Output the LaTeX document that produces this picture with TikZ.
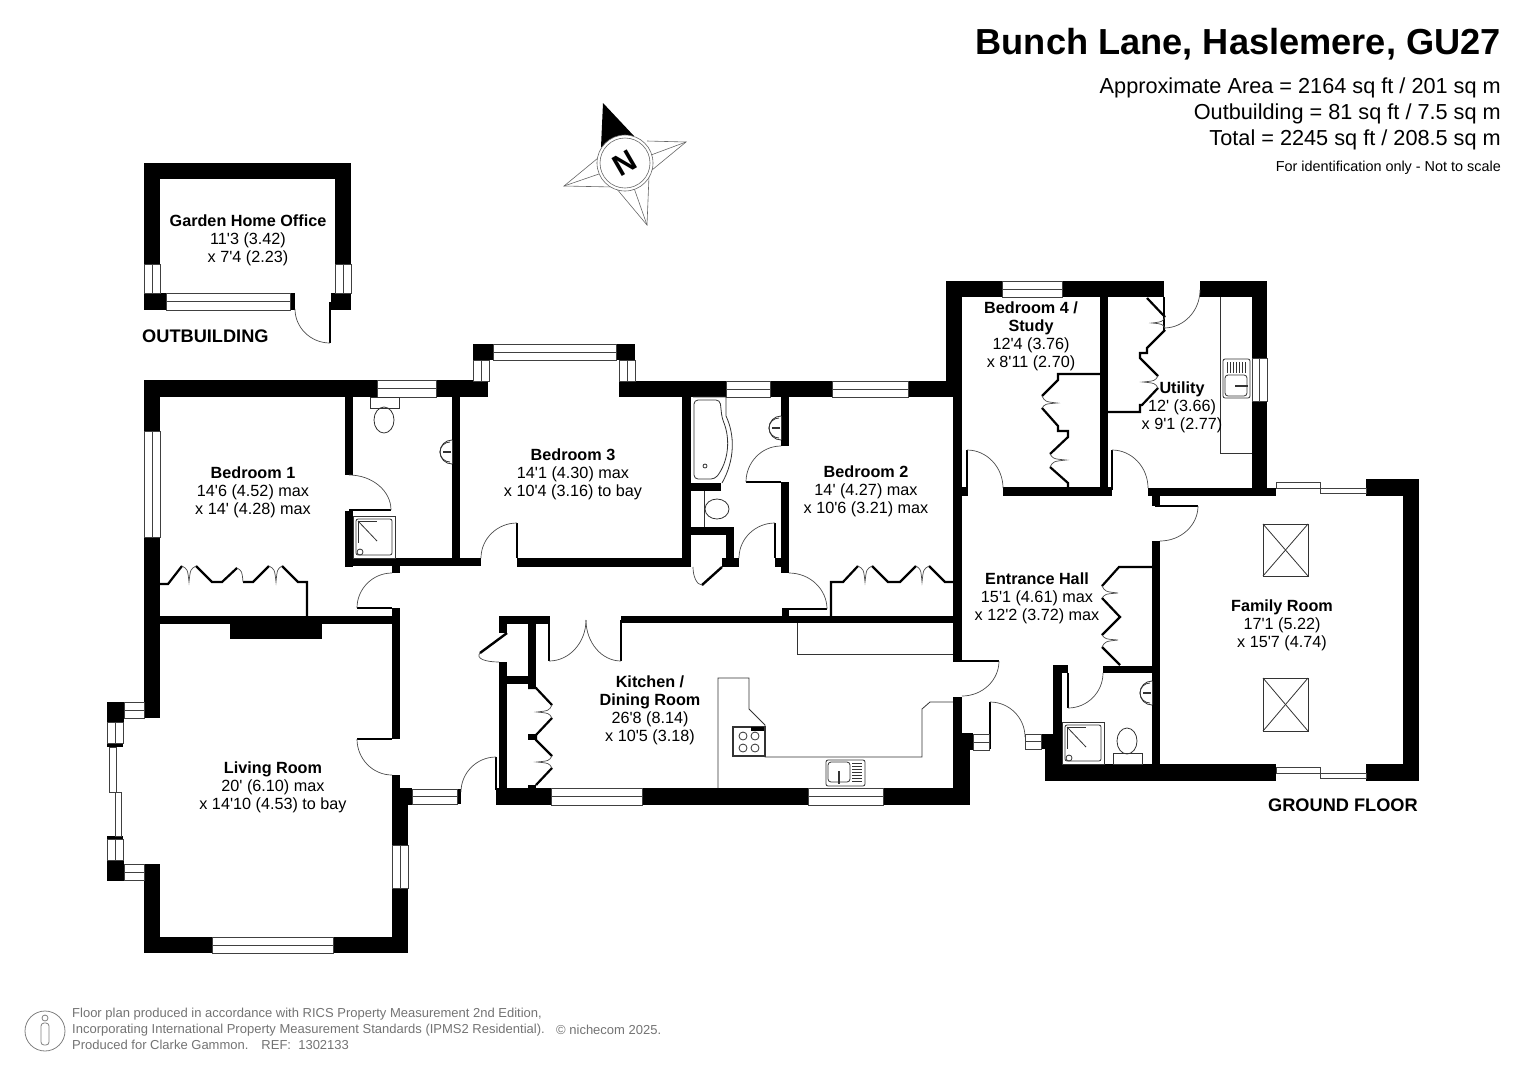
\documentclass[tikz,border=0pt]{standalone}
\usepackage{fontspec}
\usepackage{tikz}
\newfontfamily\planfont{Liberation Sans}

% quarter swing of a door: hinge, start, end
\newcommand{\swing}[6]{%
  \pgfmathsetmacro\swAx{#3+0.55*(#5-#1)}%
  \pgfmathsetmacro\swAy{#4+0.55*(#6-#2)}%
  \pgfmathsetmacro\swBx{#5+0.55*(#3-#1)}%
  \pgfmathsetmacro\swBy{#6+0.55*(#4-#2)}%
  \draw[doorline] (#3,#4) .. controls (\swAx,\swAy) and (\swBx,\swBy) .. (#5,#6);}

\begin{document}
\begin{tikzpicture}[
    x=1pt, y=-1pt,
    wall/.style={fill=black},
    pane/.style={draw=black!75, fill=white, line width=0.7pt},
    doorline/.style={draw=black!70, line width=0.7pt},
    leaf/.style={draw=black, line width=2.4pt},
    fold/.style={draw=black, line width=2.2pt, line join=miter},
    fitting/.style={draw=black!80, line width=0.8pt},
    skylight/.style={draw=black!80, line width=0.8pt},
    roomlabel/.style={font=\planfont\fontsize{16.2}{18}\selectfont, align=center, inner sep=0pt},
    floorlabel/.style={font=\planfont\bfseries\fontsize{18.2}{20}\selectfont, inner sep=0pt},
    arealabel/.style={font=\planfont\fontsize{21.7}{26}\selectfont, anchor=east, inner sep=0pt},
    footlabel/.style={font=\planfont\fontsize{13}{15}\selectfont, text=black!55, anchor=west, inner sep=0pt},
    compass/.style={draw=black!60, line width=0.6pt}
]
\useasboundingbox (0,0) rectangle (1527,1080);

% Walls
\foreach \xa/\ya/\xb/\yb in {
    144/380/488/397, 144/380/160/718, 144/864/160/953, 144/937/408/953,
    392/788/408/953, 392/775/400/790, 392/608/400/739, 160/616/400/624,
    230/624/322/639, 345/397/353/475, 345/511/353/567, 345/558/481/566,
    452/397/460/558, 392/566/400/573, 473/344/493/360, 616/344/635/360,
    619/381/962/397, 682/397/691/567, 517/558/691/567, 691/483/721/491,
    691/527/734/535, 726/527/734/567, 722/558/739/567, 775/558/789/567,
    781/397/789/446, 781/482/789/573, 782/609/789/623, 621/616/962/623,
    953/381/962/660, 946/281/962/397, 946/281/1164/297, 1200/281/1267/297,
    1252/281/1267/496, 1100/297/1108/487, 962/487/968/496, 1003/487/1112/496,
    1148/488/1276/496, 1152/496/1160/506, 1152/541/1160/765, 1366/479/1419/496,
    1403/479/1419/781, 1045/764/1276/781, 1366/764/1419/781, 1053/665/1062/764,
    1045/734/1062/781, 1053/665/1068/673, 1103/666/1152/673, 953/697/962/788,
    962/733/973/750, 962/750/970/805, 496/788/970/805, 499/616/550/624, 499/616/507/633,
    499/662/507/788, 528/624/536/688, 507/676/528/684, 528/734/536/740,
    528/785/536/788, 400/788/412/805, 457/789/461/804, 1041/734/1053/749,
    988/734/991/749, 107/702/124/722, 107/860/124/881, 107/743/123/747,
    107/836/123/839, 144/163/351/179, 144/163/160/264, 335/163/351/264,
    144/293/166/310, 290/293/295/310, 331/293/351/310}
  \fill[wall] (\xa,\ya) rectangle (\xb,\yb);

% Windows, middle line along the length
\foreach \xa/\ya/\xb/\yb in {
    377/380/436/397, 493/344/616/360, 726/381/770/397, 832/381/908/397,
    1002/281/1062/297, 551/788/642/805, 808/788/883/805, 212/937/333/953,
    412/789/457/804, 973/734/989/750, 1025/734/1041/749, 124/702/144/718,
    124/864/144/880, 166/293/290/310}
  {\pgfmathsetmacro\ym{(\ya+\yb)/2}
   \draw[pane] (\xa,\ya) rectangle (\xb,\yb);
   \draw[pane] (\xa,\ym) -- (\xb,\ym);}
\foreach \xa/\ya/\xb/\yb in {
    144/431/160/537, 473/360/489/381, 619/360/635/381, 1252/358/1267/401,
    392/845/408/888, 107/722/123/743, 107/839/123/860, 144/264/160/293,
    335/264/351/293}
  {\pgfmathsetmacro\xm{(\xa+\xb)/2}
   \draw[pane] (\xa,\ya) rectangle (\xb,\yb);
   \draw[pane] (\xm,\ya) -- (\xm,\yb);}

% Sliding doors
\foreach \xa/\ya/\xb/\yb in {
    1276/482/1320/488, 1320/488/1366/493, 1276/767/1320/773, 1320/773/1366/778,
    109/747/116/792, 115/792/121/836}
  \draw[pane] (\xa,\ya) rectangle (\xb,\yb);

% Door leaves
\foreach \xa/\ya/\xb/\yb in {
    349/510/391/510, 357/608/392/608, 357/739/392/739, 517/523/517/558,
    775/523/775/558, 746/482/781/482, 782/609/827/609, 967/450/967/490,
    1112/450/1112/490, 1164/297/1164/330, 1155/506/1198/506, 953/661/999/661,
    990/702/990/734, 1068/673/1068/708, 549/620/549/661, 621/620/621/661,
    496/757/496/790, 330/302/330/343}
  \draw[leaf, line width=2pt] (\xa,\ya) -- (\xb,\yb);
\draw[leaf] (722,567) -- (702,585);
\draw[leaf] (507,633) -- (480,653);

% Door swings
\swing{349}{510}{391}{510}{349}{475}
\swing{392}{608}{357}{608}{392}{573}
\swing{392}{739}{357}{739}{392}{775}
\swing{517}{558}{517}{523}{481}{558}
\swing{775}{558}{775}{523}{739}{558}
\swing{781}{482}{746}{482}{781}{446}
\swing{789}{609}{827}{609}{789}{573}
\swing{967}{488}{967}{450}{1003}{488}
\swing{1112}{488}{1112}{450}{1148}{488}
\swing{1164}{290}{1164}{328}{1200}{290}
\swing{1160}{506}{1198}{506}{1160}{541}
\swing{962}{661}{999}{661}{962}{696}
\swing{990}{737}{990}{702}{1025}{737}
\swing{1068}{673}{1068}{708}{1103}{673}
\swing{549}{620}{549}{661}{586}{620}
\swing{621}{620}{621}{661}{586}{620}
\swing{496}{792}{496}{757}{461}{792}
\swing{330}{309}{330}{343}{295}{309}
\swing{702}{567}{702}{585}{693}{567}
\swing{507}{653}{480}{653}{499}{662}

% Folding wardrobe doors
\draw[fold] (160,584) -- (168,584) -- (182,566);
\draw[fold] (196,566) -- (212,582) -- (222,582) -- (237,568);
\draw[fold] (243,582) -- (253,582) -- (269,566);
\draw[fold] (282,566) -- (298,582) -- (307,582) -- (307,616);
\draw[fold] (831,616) -- (831,582) -- (843,582) -- (858,566);
\draw[fold] (872,566) -- (888,582) -- (900,582) -- (916,566);
\draw[fold] (929,566) -- (945,582) -- (953,582);
\draw[fold] (1100,374) -- (1058,374) -- (1058,380) -- (1042,396);
\draw[fold] (1042,408) -- (1058,426) -- (1058,431) -- (1068,431) -- (1068,437) -- (1050,454);
\draw[fold] (1050,467) -- (1068,483) -- (1068,487);
\draw[fold] (1147,298) -- (1165,317);
\draw[fold] (1165,330) -- (1147,348) -- (1147,353) -- (1140,353) -- (1140,358) -- (1158,376);
\draw[fold] (1158,388) -- (1142,405) -- (1140,405) -- (1140,412) -- (1108,412);
\draw[fold] (1152,567) -- (1119,567) -- (1102,586);
\draw[fold] (1102,598) -- (1120,617) -- (1102,635);
\draw[fold] (1102,647) -- (1120,665);
\draw[fold] (528,688) -- (536,688) -- (552,705);
\draw[fold] (552,718) -- (536,735) -- (536,740) -- (552,756);
\draw[fold] (552,768) -- (536,785);

% Fold tips pointing down
\foreach \ax/\ay/\tx/\ty/\bx in {182/566/189/582/196, 269/566/276/582/282, 858/566/865/582/872, 916/566/922/582/929}
  {\pgfmathsetmacro\cl{\ax+0.8*(\tx-\ax)}
   \pgfmathsetmacro\cr{\bx+0.8*(\tx-\bx)}
   \pgfmathsetmacro\cy{\ay+0.2*(\ty-\ay)}
   \draw[doorline] (\ax,\ay) .. controls (\cl,\cy) .. (\tx,\ty) .. controls (\cr,\cy) .. (\bx,\ay);}
\draw[doorline] (237,568) .. controls (242,571) .. (243,582);
% Fold tips pointing sideways
\foreach \ax/\ay/\tx/\ty/\by in {1042/396/1057/403/408, 1050/454/1066/460/467, 1165/317/1152/323/328,
    1158/376/1143/382/388, 1102/586/1118/593/598, 1102/635/1118/640/647, 552/705/537/712/718, 552/756/537/762/768}
  {\pgfmathsetmacro\cx{\ax+0.2*(\tx-\ax)}
   \pgfmathsetmacro\ct{\ay+0.8*(\ty-\ay)}
   \pgfmathsetmacro\cb{\by+0.8*(\ty-\by)}
   \draw[doorline] (\ax,\ay) .. controls (\cx,\ct) .. (\tx,\ty) .. controls (\cx,\cb) .. (\ax,\by);}

% Kitchen and utility worktops
\draw[fitting] (797,623) -- (797,654) -- (953,654);
\draw[fitting] (718,788) -- (718,678) -- (749,678) -- (749,709) -- (765,725) -- (765,757)
    -- (922,757) -- (922,709) -- (930,702) -- (953,702);
\draw[fitting] (1220,297) -- (1220,453) -- (1252,453);

% Hob
\draw[fitting, line width=1.2pt, fill=white] (733,727) rectangle (765,756);
\fill[black] (751,727) rectangle (764,731);
\foreach \hx/\hy in {743/736, 755/736, 743/748, 755/748}
  \draw[fitting] (\hx,\hy) circle (4);

% Kitchen sink
\draw[fitting, rounded corners=2pt, fill=white] (826,760) rectangle (865,786);
\draw[fitting, rounded corners=3pt] (828,762) rectangle (850,782);
\foreach \sy in {763,766,...,781}
  \draw[fitting] (852,\sy) -- (862,\sy);
\draw[fitting, line width=1.2pt] (839,771) -- (839,784);

% Utility sink
\draw[fitting, rounded corners=2pt, fill=white] (1223,359) rectangle (1250,398);
\draw[fitting, rounded corners=3pt] (1225,375) rectangle (1247,396);
\foreach \sx in {1227,1230,...,1245}
  \draw[fitting] (\sx,362) -- (\sx,373);
\draw[fitting, line width=1.2pt] (1235,386) -- (1248,386);

% Basins
\foreach \bx/\by in {452/452, 781/428, 1152/693}
  {\draw[fitting] (\bx,\by-12) arc[start angle=-90, end angle=-270, radius=12];
   \draw[fitting] (\bx,\by-12) -- (\bx,\by+12);
   \draw[fitting] (\bx-2,\by-10) arc[start angle=-90, end angle=-270, radius=10];
   \draw[fitting, line width=1.4pt] (\bx-9,\by) -- (\bx-1,\by);}

% Toilets
\draw[fitting] (370,397) rectangle (399,408);
\draw[fitting] (384,420) ellipse (10 and 13);
\draw[fitting] (704,491) -- (704,527);
\draw[fitting] (717,509) ellipse (12 and 10);
\draw[fitting] (1113,753) rectangle (1142,764);
\draw[fitting] (1127,741) ellipse (10 and 13);

% Showers
\foreach \sx/\sy in {353/516, 1062/722}
  {\draw[fitting] (\sx,\sy) rectangle (\sx+42,\sy+42);
   \draw[fitting, rounded corners=2pt] (\sx+3,\sy+3) rectangle (\sx+39,\sy+39);
   \draw[fitting] (\sx+5,\sy+5) -- (\sx+24,\sy+5);
   \draw[fitting] (\sx+5,\sy+5) -- (\sx+5,\sy+27);
   \draw[fitting] (\sx+5,\sy+5) -- (\sx+24,\sy+25);
   \draw[fitting] (\sx+7,\sy+36) circle (3);}

% Bath
\draw[fitting] (693,397) -- (726,397) -- (726,416) .. controls (735,435) and (735,460) .. (722,483);
\draw[fitting, rounded corners=4pt] (694,400) -- (720,400) -- (722,418)
    .. controls (731,440) and (728,462) .. (715,479) -- (694,479) -- cycle;
\draw[fitting] (705,466) circle (2);

% Skylights
\foreach \xa/\ya/\xb/\yb in {1263/524/1308/576, 1263/678/1308/731}
  {\draw[skylight] (\xa,\ya) rectangle (\xb,\yb);
   \draw[skylight] (\xa,\ya) -- (\xb,\yb);
   \draw[skylight] (\xa,\yb) -- (\xb,\ya);}

% Compass
\draw[compass] (647,141) -- (686,142) -- (652,170);
\draw[compass] (651,155) -- (686,142);
\draw[compass] (598,158) -- (564,186) -- (614,187);
\draw[compass] (599,174) -- (564,186);
\draw[compass] (616,188) -- (647,225) -- (649,176);
\draw[compass] (634,188) -- (647,225);
\fill[black] (603,103) -- (634,136) -- (601,147) -- cycle;
\draw[compass, fill=white] (625,163) circle (28);
\draw[compass] (625,163) circle (25);
\node[font=\planfont\bfseries\fontsize{30}{30}\selectfont, rotate=30, inner sep=0pt] (north) at (625,163) {N};

% Rooms
\node[roomlabel] (office) at (248,240) {\textbf{Garden Home Office}\\11'3 (3.42)\\x 7'4 (2.23)};
\node[roomlabel] (bedone) at (253,492) {\textbf{Bedroom 1}\\14'6 (4.52) max\\x 14' (4.28) max};
\node[roomlabel] (bedthree) at (573,474) {\textbf{Bedroom 3}\\14'1 (4.30) max\\x 10'4 (3.16) to bay};
\node[roomlabel] (bedtwo) at (866,491) {\textbf{Bedroom 2}\\14' (4.27) max\\x 10'6 (3.21) max};
\node[roomlabel] (bedfour) at (1031,336) {\textbf{Bedroom 4 /}\\\textbf{Study}\\12'4 (3.76)\\x 8'11 (2.70)};
\node[roomlabel] (utility) at (1182,407) {\textbf{Utility}\\12' (3.66)\\x 9'1 (2.77)};
\node[roomlabel] (hall) at (1037,598) {\textbf{Entrance Hall}\\15'1 (4.61) max\\x 12'2 (3.72) max};
\node[roomlabel] (family) at (1282,625) {\textbf{Family Room}\\17'1 (5.22)\\x 15'7 (4.74)};
\node[roomlabel] (kitchen) at (650,710) {\textbf{Kitchen /}\\\textbf{Dining Room}\\26'8 (8.14)\\x 10'5 (3.18)};
\node[roomlabel] (living) at (273,787) {\textbf{Living Room}\\20' (6.10) max\\x 14'10 (4.53) to bay};
\node[floorlabel, anchor=west] (outbuilding) at (142,336) {OUTBUILDING};
\node[floorlabel, anchor=east] (ground) at (1418,805) {GROUND FLOOR};

% Title
\node[font=\planfont\bfseries\fontsize{36.2}{40}\selectfont, anchor=east, inner sep=0pt] (title) at (1501,44) {Bunch Lane, Haslemere, GU27};
\node[arealabel] (area) at (1501,88) {Approximate Area = 2164 sq ft / 201 sq m};
\node[arealabel] (outarea) at (1501,114) {Outbuilding = 81 sq ft / 7.5 sq m};
\node[arealabel] (total) at (1501,140) {Total = 2245 sq ft / 208.5 sq m};
\node[font=\planfont\fontsize{14.4}{16}\selectfont, anchor=east, inner sep=0pt] (scale) at (1501,168) {For identification only - Not to scale};

% Footer
\draw[draw=black!50, line width=0.8pt] (45,1031) circle (20);
\draw[draw=black!50, line width=0.8pt] (45,1018) circle (3);
\draw[draw=black!50, line width=0.8pt, rounded corners=3pt] (41,1023) rectangle (49,1045);
\node[footlabel] (footone) at (72,1014) {Floor plan produced in accordance with RICS Property Measurement 2nd Edition,};
\node[footlabel] (foottwo) at (72,1030) {Incorporating International Property Measurement Standards (IPMS2 Residential).};
\node[footlabel] (footthree) at (72,1045) {Produced for Clarke Gammon.\quad REF:\ \ 1302133};
\node[footlabel] (logo) at (556,1030) {© nichecom 2025.};
\end{tikzpicture}
\end{document}
